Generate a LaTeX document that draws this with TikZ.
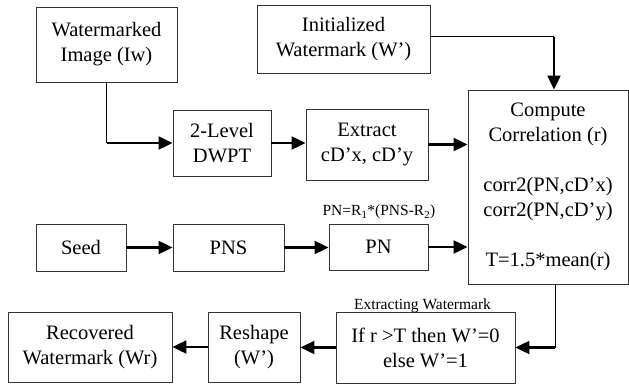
\documentclass[tikz,border=0pt]{standalone}
\usepackage{fontspec}
\setmainfont{Liberation Serif}
\usetikzlibrary{arrows.meta}
\begin{document}
\begin{tikzpicture}[x=1pt,y=-1pt,
  box/.style={draw=black!80, line width=0.9pt, rectangle, align=center, inner sep=0pt,
    font=\fontsize{20.5}{25}\selectfont},
  arr/.style={line width=2.2pt, -{Triangle[length=14pt,width=13pt]}},
  thinline/.style={line width=1pt},
  small/.style={font=\fontsize{15.5}{18}\selectfont, inner sep=0pt, anchor=base}]
\useasboundingbox (0,0) rectangle (629,387);

\node[box, minimum width=141pt, minimum height=75pt] (iw) at (106.5,44.5) {Watermarked\\Image (Iw)};
\node[box, minimum width=173pt, minimum height=68pt] (init) at (343.5,39) {Initialized\\Watermark (W’)};
\node[box, minimum width=98pt, minimum height=66pt] (dwpt) at (222,143) {2-Level\\DWPT};
\node[box, minimum width=122pt, minimum height=71pt] (ext) at (367,144.5) {Extract\\cD’x, cD’y};
\node[box, minimum width=160pt, minimum height=194pt] (comp) at (548,187)
  {Compute\\Correlation (r)\\[25pt]corr2(PN,cD’x)\\corr2(PN,cD’y)\\[25pt]T=1.5*mean(r)};
\node[box, minimum width=90pt, minimum height=47pt] (seed) at (81,247.5) {Seed};
\node[box, minimum width=111pt, minimum height=47pt] (pns) at (228.5,247.5) {PNS};
\node[box, minimum width=99pt, minimum height=46pt] (pn) at (378.5,247) {PN};
\node[box, minimum width=164pt, minimum height=70pt] (rec) at (90,347) {Recovered\\Watermark (Wr)};
\node[box, minimum width=92pt, minimum height=70pt] (resh) at (254,347) {Reshape\\(W’)};
\node[box, minimum width=179pt, minimum height=71pt] (extw) at (425.5,347.5) {If r >T then W’=0\\else W’=1};

\node[small] (pnlabel) at (379,216) {PN=R\textsubscript{1}*(PNS-R\textsubscript{2})};
\node[small] (extlabel) at (422.5,309) {Extracting Watermark};

% connectors
\coordinate (c1) at (iw.south |- dwpt.west);
\draw[thinline] (iw.south) -- (c1);
\draw[arr] (c1) -- (dwpt.west);

\draw[arr] (dwpt.east) -- (ext.west |- dwpt.east);
\draw[arr] (ext.east) -- (ext.east -| comp.west);

\coordinate (c2) at ([xshift=6pt]comp.north |- 0,37);
\draw[thinline] (init.east |- c2) -- (c2);
\draw[arr] (c2) -- ([xshift=6pt]comp.north);

\draw[arr] (seed.east) -- (pns.west);
\draw[arr] (pns.east) -- (pn.west |- pns.east);
\draw[arr] (pn.east) -- (pn.east -| comp.west);

\coordinate (c3) at ([xshift=7pt]comp.south |- extw.east);
\draw[thinline] ([xshift=7pt]comp.south) -- (c3);
\draw[arr] (c3) -- (extw.east);

\draw[arr] (extw.west) -- (resh.east |- extw.west);
\draw[arr] (resh.west) -- (rec.east |- resh.west);
\end{tikzpicture}
\end{document}
